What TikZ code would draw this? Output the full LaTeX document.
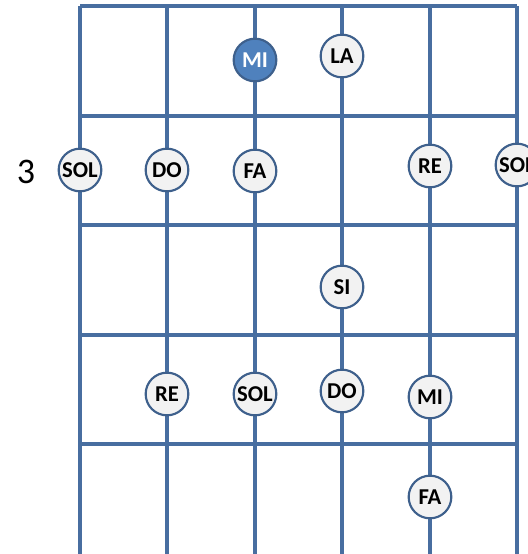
\documentclass[tikz,border=0pt]{standalone}
\usepackage{fontspec}
\setmainfont{Carlito}
\definecolor{fretblue}{RGB}{72,110,160}
\definecolor{ringblue}{RGB}{62,96,140}
\definecolor{noteblue}{RGB}{79,129,189}
\definecolor{notegray}{RGB}{242,242,242}
\tikzset{
  note/.style={circle,draw=ringblue,line width=1.6pt,fill=notegray,minimum size=32pt,inner sep=0pt,font=\fontsize{17}{19}\selectfont\bfseries},
  rootnote/.style={note,fill=noteblue,text=white}
}
\begin{document}
\begin{tikzpicture}[x=0.75pt,y=-0.75pt]
  \useasboundingbox[fill=white] (0,0) rectangle (528,554);
  % strings
  \foreach \s in {80,167,255,342,430,517}
    \draw[fretblue,line width=2.3pt] (\s,6) -- (\s,556);
  % frets
  \foreach \f in {6,116,225,335,444}
    \draw[fretblue,line width=2.3pt] (80,\f) -- (517,\f);
  \node at (26,172) {\fontsize{27}{29}\selectfont 3};
  % notes
  \node[rootnote] (mi1) at (255,60) {MI};
  \node[note] (la1) at (342,56) {LA};
  \node[note] (sol1) at (80,170) {SOL};
  \node[note] (do1) at (167,170) {DO};
  \node[note] (fa1) at (255,171) {FA};
  \node[note] (re1) at (430,166) {RE};
  \node[note] (sol2) at (517,165) {SOL};
  \node[note] (si1) at (342,287) {SI};
  \node[note] (re2) at (167,394) {RE};
  \node[note] (sol3) at (255,394) {SOL};
  \node[note] (do2) at (342,391) {DO};
  \node[note] (mi2) at (430,397) {MI};
  \node[note] (fa2) at (430,497) {FA};
\end{tikzpicture}
\end{document}
